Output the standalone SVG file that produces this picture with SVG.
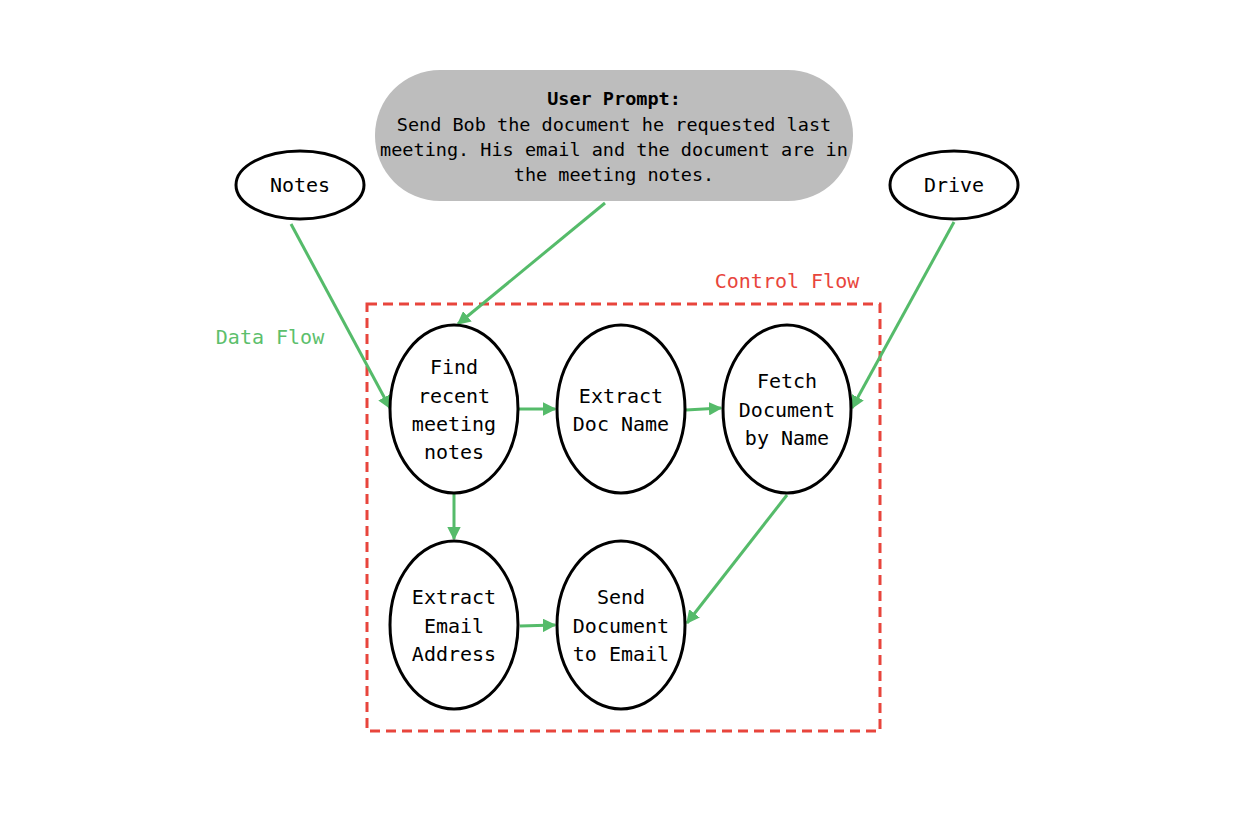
<svg xmlns="http://www.w3.org/2000/svg" width="1258" height="832" viewBox="0 0 1258 832">
<defs>
<style>
.node{fill:#fff;stroke:#000;stroke-width:3}
.t{font-family:"DejaVu Sans Mono","Liberation Mono",monospace;font-size:20px;fill:#000;text-anchor:middle;dominant-baseline:central}
.p{font-family:"DejaVu Sans Mono","Liberation Mono",monospace;font-size:18.5px;fill:#000;text-anchor:middle;dominant-baseline:central}
.edge{stroke:#55bb6a;stroke-width:3;fill:none;marker-end:url(#ah)}
</style>
<marker id="ah" viewBox="0 0 10 10" refX="9" refY="5" markerWidth="4.5" markerHeight="4.5" orient="auto" markerUnits="strokeWidth">
<path d="M0,0 L10,5 L0,10 z" fill="#55bb6a"/>
</marker>
</defs>
<rect width="1258" height="832" fill="#fff"/>
<g id="control-flow">
<rect x="367" y="304" width="513" height="427" fill="none" stroke="#e8453c" stroke-width="3" stroke-dasharray="10,6"/>
<text x="787" y="281" class="t" style="fill:#e8453c">Control Flow</text>
</g>
<text id="data-flow-label" x="270" y="337" class="t" style="fill:#5cbf6c">Data Flow</text>
<g id="connectors">
<line class="edge" x1="291" y1="224" x2="390" y2="408"/>
<line class="edge" x1="605" y1="203" x2="458" y2="324"/>
<line class="edge" x1="954" y1="222" x2="852" y2="408"/>
<line class="edge" x1="519" y1="409" x2="555" y2="409"/>
<line class="edge" x1="686" y1="410" x2="721" y2="408"/>
<line class="edge" x1="454" y1="494" x2="454" y2="539"/>
<line class="edge" x1="520" y1="626" x2="555" y2="625"/>
<line class="edge" x1="787" y1="495" x2="687" y2="623"/>
</g>
<g id="user-prompt">
<rect x="375" y="70" width="478" height="131" rx="65" ry="65" fill="#bdbdbd"/>
<text x="614" y="98" class="p" font-weight="bold">User Prompt:</text>
<text x="614" y="124" class="p">Send Bob the document he requested last</text>
<text x="614" y="149" class="p">meeting. His email and the document are in</text>
<text x="614" y="174" class="p">the meeting notes.</text>
</g>
<g id="notes">
<ellipse class="node" cx="300" cy="185" rx="64" ry="34"/>
<text x="300" y="185" class="t">Notes</text>
</g>
<g id="drive">
<ellipse class="node" cx="954" cy="185" rx="64" ry="34"/>
<text x="954" y="185" class="t">Drive</text>
</g>
<g id="find-notes">
<ellipse class="node" cx="454" cy="409" rx="64" ry="84"/>
<text x="454" y="367" class="t">Find</text>
<text x="454" y="396" class="t">recent</text>
<text x="454" y="424" class="t">meeting</text>
<text x="454" y="452" class="t">notes</text>
</g>
<g id="extract-doc">
<ellipse class="node" cx="621" cy="409" rx="64" ry="84"/>
<text x="621" y="396" class="t">Extract</text>
<text x="621" y="424" class="t">Doc Name</text>
</g>
<g id="fetch-doc">
<ellipse class="node" cx="787" cy="409" rx="64" ry="84"/>
<text x="787" y="381" class="t">Fetch</text>
<text x="787" y="410" class="t">Document</text>
<text x="787" y="438" class="t">by Name</text>
</g>
<g id="extract-email">
<ellipse class="node" cx="454" cy="625" rx="64" ry="84"/>
<text x="454" y="597" class="t">Extract</text>
<text x="454" y="626" class="t">Email</text>
<text x="454" y="654" class="t">Address</text>
</g>
<g id="send-doc">
<ellipse class="node" cx="621" cy="625" rx="64" ry="84"/>
<text x="621" y="597" class="t">Send</text>
<text x="621" y="626" class="t">Document</text>
<text x="621" y="654" class="t">to Email</text>
</g>
</svg>
